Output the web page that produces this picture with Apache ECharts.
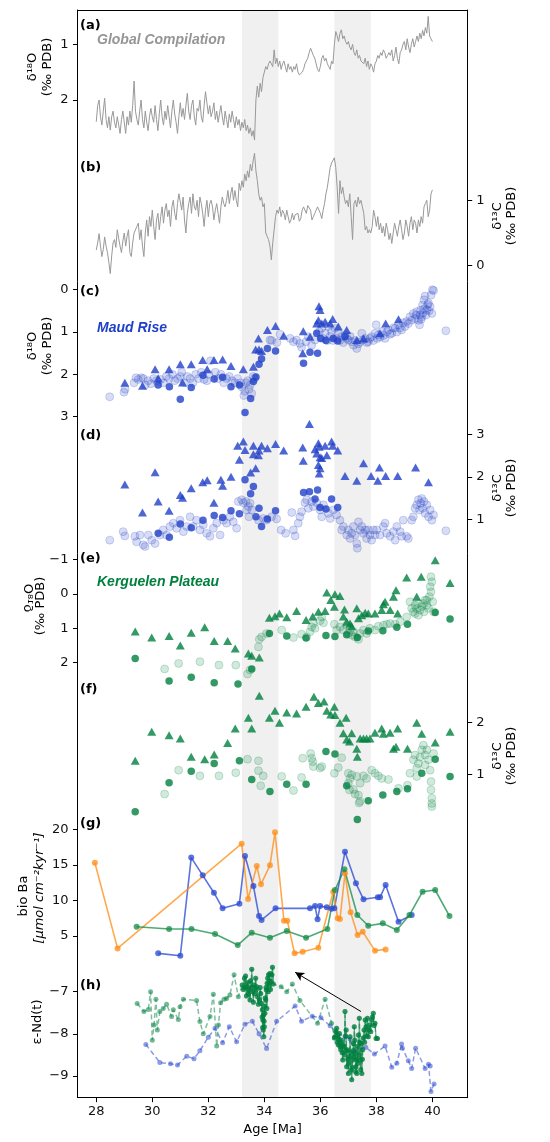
<!DOCTYPE html>
<html><head><meta charset="utf-8">
<script src="https://cdn.jsdelivr.net/npm/echarts@6/dist/echarts.min.js"></script>
<style>html,body{margin:0;padding:0;background:#fff}#c{width:550px;height:1142px}</style>
</head><body><div id="c"></div>
<script>
// ---------------- DATA ----------------
const ageTicks = [28, 30, 32, 34, 36, 38, 40];
const bandRanges = [[33.2, 34.5], [36.5, 37.8]];

// (a) global compilation d18O, sampled every 0.05 Ma from 28.0 Ma
const globalAgeStart = 28.0, globalAgeStep = 0.05;
const globalO18 = [
2.39,2.10,2.00,2.30,2.45,2.20,1.97,2.35,2.50,2.30,
2.54,2.30,2.20,2.40,2.50,2.30,2.45,2.60,2.35,2.20,
2.40,2.60,2.30,2.45,2.20,2.40,2.10,1.66,2.20,2.35,
2.45,2.20,2.00,2.35,2.50,2.20,2.40,2.55,2.30,2.15,
2.30,2.40,2.10,2.35,2.55,2.25,2.00,2.30,2.45,2.20,
2.35,2.10,2.30,2.50,2.20,2.00,2.25,2.40,2.60,2.30,
2.05,2.30,2.15,2.35,2.10,1.88,2.20,2.35,2.10,2.00,
2.30,2.45,2.15,2.20,2.00,2.30,2.40,2.10,1.85,2.05,
2.25,2.10,2.30,2.20,2.05,2.35,2.20,2.40,2.25,2.10,
2.30,2.45,2.20,2.35,2.50,2.25,2.40,2.20,2.35,2.50,
2.30,2.45,2.35,2.55,2.40,2.50,2.35,2.55,2.45,2.60,
2.50,2.65,2.55,2.72,2.00,1.75,1.95,1.70,1.85,1.60,
1.50,1.40,1.45,1.35,1.30,1.30,1.40,1.10,1.35,1.25,
1.40,1.30,1.45,1.35,1.30,1.40,1.50,1.35,1.45,1.40,
1.50,1.40,1.45,1.35,1.50,1.55,1.58,1.50,1.45,1.35,
1.30,1.25,1.15,1.07,1.10,1.20,1.25,1.35,1.45,1.49,
1.40,1.25,1.20,1.30,1.25,1.35,1.40,1.45,1.30,1.35,
1.00,0.77,0.85,0.95,0.80,0.74,0.90,0.85,0.95,1.00,
0.95,1.05,1.10,1.00,1.15,1.20,1.10,1.25,1.20,1.30,
1.30,1.35,1.25,1.40,1.30,1.45,1.35,1.40,1.50,1.35,
1.30,1.20,1.25,1.15,1.20,1.10,1.15,1.25,1.20,1.15,
1.20,1.10,1.30,1.20,1.05,1.25,1.35,1.15,1.10,1.00,
0.95,1.10,0.90,1.05,1.15,1.00,0.90,1.05,0.95,0.85,
0.95,0.80,0.90,0.75,0.85,0.70,0.80,0.50,0.85,0.90,
0.95];
// (b) global compilation d13C, same sampling
const globalC13 = [
0.24,0.35,0.49,0.30,0.14,0.25,0.44,0.30,0.20,0.05,
-0.12,0.15,0.35,0.40,0.28,0.55,0.42,0.30,0.20,0.38,
0.50,0.30,0.45,0.55,0.20,0.14,0.35,0.50,0.48,0.60,
0.65,0.40,0.55,0.30,0.14,0.50,0.70,0.45,0.75,0.60,
0.85,0.60,0.40,0.70,0.80,0.55,0.75,0.90,0.65,0.85,
0.95,0.75,0.85,0.60,0.90,1.00,0.80,0.70,0.95,1.10,
1.11,0.85,1.05,0.70,0.50,0.80,0.95,1.05,0.80,1.10,
0.90,0.85,1.00,0.75,1.05,0.95,0.80,0.60,0.85,1.00,
0.75,0.95,1.00,0.90,0.70,0.85,0.95,0.80,0.65,0.90,
1.05,0.95,0.90,1.00,1.15,0.95,1.10,1.20,1.00,1.15,
1.00,0.90,1.26,1.15,1.30,1.20,1.40,1.30,1.45,1.35,
1.55,1.45,1.60,1.72,1.45,1.30,1.10,1.00,1.05,0.90,
0.95,0.50,0.45,0.40,0.30,0.09,0.35,0.55,0.75,0.85,
0.80,0.90,0.75,0.85,0.80,0.70,0.85,0.75,0.65,0.70,
0.80,0.70,0.78,0.75,0.80,0.68,0.72,0.85,0.90,0.88,
0.80,0.92,0.95,0.85,0.70,0.75,0.80,0.85,0.90,0.88,
0.80,0.72,0.85,0.95,1.10,1.20,1.35,1.50,1.57,1.60,
1.65,1.50,1.20,0.80,1.30,1.10,1.20,1.05,0.95,1.00,
0.90,1.10,0.75,0.40,0.95,1.00,0.90,1.05,0.95,1.00,
0.90,0.80,0.55,0.60,0.50,0.55,0.50,0.60,0.85,0.75,
0.60,0.75,0.55,0.65,0.50,0.60,0.45,0.65,0.55,0.40,
0.50,0.34,0.50,0.65,0.55,0.45,0.60,0.70,0.55,0.40,
0.50,0.70,0.60,0.45,0.65,0.75,0.55,0.70,0.65,0.50,
0.70,0.60,0.75,0.65,0.90,0.95,1.00,0.75,0.85,1.10,
1.16];

// (c) Maud Rise d18O  [age, value]
const maudO18Bulk = [[28.48,2.53],[28.99,2.42],[29.03,2.35],[29.35,2.2],[29.42,2.08],[29.5,2.12],[29.6,2.08],[29.68,2.1],[29.75,2.25],[29.85,2.15],[29.95,2.22],[30.05,2.1],[30.15,2.15],[30.3,2.12],[30.4,2.2],[30.5,2.05],[30.6,2.1],[30.72,2.0],[30.8,2.15],[30.9,2.1],[31.0,2.05],[31.05,1.95],[31.15,2.2],[31.25,2.05],[31.35,2.1],[31.45,2.2],[31.55,2.0],[31.65,2.1],[31.75,1.95],[31.85,2.12],[31.95,2.15],[32.02,2.0],[32.08,1.68],[32.25,1.95],[32.35,2.1],[32.45,2.0],[32.55,2.2],[32.65,2.1],[32.75,2.05],[32.85,2.15],[32.95,2.2],[33.05,2.1],[33.15,2.2],[33.2,2.3],[33.27,2.5],[33.3,2.4],[33.35,2.2],[33.4,2.15],[33.45,2.35],[33.5,2.25],[33.55,2.45],[33.6,2.05],[33.65,2.1],[34.2,1.19],[34.26,1.2],[34.45,1.25],[34.56,1.05],[34.92,1.15],[35.04,1.23],[35.15,1.19],[35.27,1.27],[35.33,1.36],[35.49,1.23],[35.57,1.11],[35.69,1.31],[35.81,1.19],[35.96,0.99],[36.05,0.91],[36.1,1.15],[36.17,1.03],[36.25,1.2],[36.29,0.87],[36.35,1.1],[36.4,0.99],[36.45,1.2],[36.52,0.91],[36.58,1.15],[36.64,1.03],[36.7,1.2],[36.76,1.11],[36.82,1.25],[36.88,1.07],[36.95,1.15],[37.0,1.19],[37.06,1.1],[37.12,1.23],[37.18,1.31],[37.24,1.2],[37.3,1.39],[37.36,1.28],[37.42,1.23],[37.48,1.03],[37.54,1.18],[37.6,1.15],[37.66,1.25],[37.71,1.23],[37.77,1.15],[37.83,1.11],[37.89,1.2],[37.95,1.03],[37.99,0.83],[38.03,1.15],[38.07,1.07],[38.13,1.12],[38.19,0.99],[38.25,1.08],[38.31,1.15],[38.37,1.0],[38.43,0.95],[38.49,1.05],[38.55,1.03],[38.61,0.9],[38.67,0.91],[38.73,1.0],[38.79,0.83],[38.85,0.9],[38.9,0.95],[38.96,0.78],[39.02,0.87],[39.08,0.75],[39.14,0.8],[39.2,0.64],[39.26,0.72],[39.32,0.56],[39.38,0.68],[39.42,0.6],[39.44,0.52],[39.5,0.72],[39.54,0.83],[39.56,0.6],[39.58,0.48],[39.6,0.7],[39.62,0.64],[39.65,0.36],[39.67,0.55],[39.7,0.24],[39.72,0.45],[39.74,0.15],[39.77,0.6],[39.8,0.48],[39.83,0.35],[39.86,0.32],[39.88,0.5],[39.92,0.4],[39.95,0.13],[39.98,0.56],[40.0,0.0],[40.04,0.02],[40.48,0.97]];
const maudO18Benthic = [[30.21,2.25],[30.61,2.29],[31.0,2.59],[31.39,2.31],[31.81,2.02],[32.21,2.11],[32.51,2.07],[32.81,2.29],[33.11,2.25],[33.31,2.9],[33.51,2.57],[33.61,2.17],[33.7,2.06],[33.81,1.76],[33.9,1.63],[34.11,1.39],[34.4,1.45],[35.4,1.74],[35.63,1.48],[35.9,1.5],[35.87,1.03],[36.01,1.15],[36.2,1.2],[36.46,1.15],[36.62,1.21],[36.88,1.11]];
const maudO18Planktic = [[29.02,2.2],[29.65,2.27],[30.1,1.88],[30.21,2.09],[30.6,1.88],[31.0,1.76],[31.08,2.19],[31.39,1.76],[31.8,1.66],[31.96,1.88],[32.2,1.66],[32.51,1.65],[32.81,1.8],[33.25,1.88],[33.61,1.82],[33.69,1.41],[33.79,1.15],[33.81,1.41],[33.9,1.45],[34.11,0.95],[34.4,0.86],[34.69,1.09],[35.39,0.98],[35.37,1.5],[35.63,1.11],[35.95,0.39],[35.99,0.48],[35.93,0.72],[35.87,0.8],[36.05,0.8],[36.17,0.76],[36.44,0.69],[36.35,0.8],[36.64,0.87],[36.94,0.95],[37.3,1.19],[37.54,1.15],[38.13,1.03],[38.33,0.8],[38.79,0.7]];

// (d) Maud Rise d13C
const maudC13Bulk = [[28.48,0.51],[28.96,0.71],[29.02,0.61],[29.38,0.6],[29.44,0.47],[29.56,0.63],[29.68,0.4],[29.74,0.36],[29.86,0.63],[29.98,0.51],[30.1,0.43],[30.27,0.63],[30.39,0.75],[30.51,0.63],[30.63,0.83],[30.75,0.91],[30.87,0.79],[30.99,0.98],[31.11,0.71],[31.23,0.83],[31.35,1.06],[31.46,0.83],[31.58,0.98],[31.7,0.75],[31.82,0.87],[31.94,0.67],[32.06,0.6],[32.18,0.79],[32.3,0.91],[32.42,0.63],[32.54,0.98],[32.65,0.91],[32.77,1.06],[32.89,0.94],[33.01,0.79],[33.07,1.42],[33.19,1.46],[33.25,1.39],[33.35,1.42],[33.37,1.22],[33.43,1.3],[33.45,1.06],[33.49,1.38],[33.55,1.22],[33.79,0.98],[33.96,1.02],[34.08,0.98],[34.26,1.06],[34.44,1.01],[34.6,0.75],[34.76,0.67],[34.98,1.16],[35.04,0.75],[35.1,0.61],[35.21,0.91],[35.27,1.06],[35.33,1.18],[35.45,1.39],[35.51,1.46],[35.57,1.26],[35.69,1.42],[35.75,1.3],[35.87,1.39],[35.99,1.22],[36.05,1.06],[36.11,1.34],[36.29,1.14],[36.35,1.02],[36.46,1.22],[36.58,1.1],[36.7,0.98],[36.76,0.75],[36.82,0.83],[36.94,0.63],[37.0,0.75],[37.06,0.55],[37.12,0.67],[37.18,0.83],[37.24,0.63],[37.3,0.43],[37.32,0.32],[37.36,0.94],[37.42,0.75],[37.48,0.83],[37.54,0.67],[37.6,0.75],[37.65,0.55],[37.71,0.75],[37.77,0.63],[37.83,0.51],[37.89,0.75],[37.95,0.63],[38.01,0.75],[38.13,0.63],[38.25,0.83],[38.31,0.91],[38.37,0.67],[38.49,0.6],[38.61,0.71],[38.67,0.51],[38.73,0.83],[38.85,0.71],[38.9,0.6],[38.96,0.98],[39.08,0.6],[39.14,0.55],[39.26,0.98],[39.32,1.06],[39.38,1.26],[39.44,1.34],[39.5,1.46],[39.54,1.22],[39.58,1.38],[39.62,1.49],[39.65,1.26],[39.7,1.42],[39.74,1.14],[39.8,1.34],[39.86,1.06],[39.92,1.22],[39.98,0.98],[40.04,1.1],[40.48,0.73]];
const maudC13Benthic = [[30.21,0.67],[30.61,0.58],[31.0,0.89],[31.39,0.8],[31.81,0.98],[32.21,1.09],[32.51,1.04],[32.81,1.2],[33.11,1.13],[33.31,1.93],[33.51,1.6],[33.61,1.77],[33.81,1.26],[33.7,1.06],[33.9,0.83],[34.11,1.01],[34.4,1.2],[35.4,1.63],[35.61,1.65],[35.9,1.69],[35.81,1.48],[36.4,1.48],[36.62,1.28],[35.99,1.28],[36.2,1.24]];
const maudC13Planktic = [[29.02,1.82],[29.65,1.16],[30.1,2.11],[30.21,1.42],[30.6,1.2],[31.0,1.57],[31.08,1.51],[31.39,1.73],[31.8,1.87],[31.96,1.92],[32.2,1.39],[32.45,1.93],[32.51,1.79],[32.81,2.0],[33.05,2.73],[33.11,2.4],[33.25,2.83],[33.31,2.63],[33.51,2.1],[33.61,2.73],[33.61,2.53],[33.69,2.2],[33.79,2.51],[33.81,2.62],[33.9,2.73],[34.11,2.67],[34.4,2.77],[34.69,2.62],[35.37,2.69],[35.39,2.38],[35.61,3.24],[35.81,2.65],[35.87,2.55],[35.93,2.79],[35.96,2.71],[35.99,2.46],[35.93,2.28],[35.96,2.08],[35.99,2.2],[36.05,2.44],[36.17,2.73],[36.23,2.51],[36.4,2.83],[36.44,2.73],[36.62,2.62],[36.88,2.02],[37.3,1.91],[37.54,2.32],[37.81,2.02],[38.05,1.91],[38.11,2.22],[38.33,2.02],[38.76,2.02],[39.4,2.22],[39.86,1.87]];

// (e) Kerguelen Plateau d18O
const kergO18Bulk = [[30.44,2.18],[30.94,2.02],[31.7,1.97],[32.38,2.07],[32.98,2.07],[33.4,2.33],[33.49,2.21],[33.79,1.54],[33.82,1.32],[33.9,1.25],[34.08,1.15],[34.62,1.05],[35.04,1.27],[35.33,1.17],[35.51,1.25],[35.63,1.1],[35.69,0.96],[35.75,0.86],[35.81,1.0],[35.99,0.78],[36.05,0.67],[36.11,0.84],[36.5,0.88],[36.58,1.05],[36.7,0.96],[36.82,1.05],[36.94,0.91],[37.0,1.15],[37.06,1.05],[37.12,1.2],[37.18,1.1],[37.24,1.25],[37.36,1.32],[37.42,1.15],[37.54,1.05],[37.65,1.15],[37.77,1.0],[37.95,1.05],[38.07,0.94],[38.25,0.91],[38.37,0.88],[38.49,0.86],[38.67,0.88],[38.85,0.81],[39.08,0.67],[39.2,0.23],[39.26,0.42],[39.32,0.52],[39.38,0.33],[39.38,0.57],[39.44,0.42],[39.5,0.28],[39.5,0.62],[39.56,0.47],[39.62,0.37],[39.68,0.28],[39.7,0.52],[39.74,0.18],[39.8,0.33],[39.8,0.18],[39.86,0.42],[39.89,0.08],[39.92,-0.21],[39.95,-0.5],[39.95,-0.06],[39.98,-0.35],[40.01,0.23],[40.04,0.52]];
const kergO18Benthic = [[29.39,1.88],[30.6,2.53],[31.39,2.42],[32.21,2.58],[33.06,2.62],[33.55,2.18],[34.18,1.15],[34.8,1.22],[35.49,1.28],[36.2,1.21],[36.52,1.24],[36.94,1.19],[37.32,1.27],[37.71,1.08],[38.23,1.07],[38.73,0.97],[39.11,0.88],[40.1,0.54],[40.63,0.73]];
const kergO18Planktic = [[29.39,1.09],[29.98,1.27],[30.6,1.22],[31.0,1.5],[31.39,1.13],[31.87,0.97],[32.21,1.37],[32.69,1.37],[32.96,1.59],[33.43,1.73],[33.55,1.8],[33.82,1.85],[34.18,0.69],[34.38,0.65],[34.54,0.57],[34.8,0.68],[35.15,0.5],[35.49,0.76],[35.73,0.66],[35.93,0.52],[36.17,0.5],[36.23,-0.04],[36.37,0.18],[36.52,0.01],[36.7,0.06],[36.5,0.37],[36.86,0.45],[36.82,0.66],[36.94,0.81],[37.06,0.86],[37.12,0.94],[37.3,0.42],[37.36,0.71],[37.48,0.62],[37.6,0.55],[37.71,0.57],[37.95,0.57],[38.19,0.47],[38.25,0.3],[38.31,0.23],[38.49,0.47],[38.61,0.08],[38.7,-0.11],[38.76,0.57],[39.08,-0.48],[39.44,0.08],[39.6,-0.5],[40.1,-0.98],[40.63,-0.32]];

// (f) Kerguelen Plateau d13C
const kergC13Bulk = [[30.44,0.62],[30.94,1.08],[31.7,0.97],[32.38,0.97],[32.98,1.03],[33.4,1.29],[33.79,1.26],[33.79,1.07],[33.96,0.97],[33.87,0.78],[34.62,0.96],[35.04,0.69],[35.33,0.94],[35.37,1.31],[35.65,1.4],[35.69,1.31],[35.73,1.24],[35.75,1.15],[35.99,1.12],[36.05,1.15],[36.5,1.02],[36.64,1.13],[36.76,1.32],[37.0,1.02],[37.06,0.92],[37.12,0.99],[37.0,0.83],[37.04,0.7],[37.18,0.71],[37.24,0.62],[37.3,0.96],[37.36,0.6],[37.38,0.45],[37.42,0.48],[37.42,0.83],[37.54,0.97],[37.65,0.92],[37.83,1.08],[37.95,1.02],[38.07,0.97],[38.19,0.92],[38.43,0.9],[38.79,0.73],[39.11,0.79],[39.2,1.02],[39.32,1.28],[39.38,1.37],[39.44,1.12],[39.44,0.96],[39.5,1.21],[39.56,1.33],[39.62,1.47],[39.68,1.56],[39.74,1.37],[39.74,1.18],[39.8,1.47],[39.86,1.28],[39.92,1.08],[39.95,0.86],[39.95,0.7],[39.98,0.54],[39.98,0.44],[39.98,0.38],[40.04,1.4]];
const kergC13Benthic = [[29.39,0.28],[30.6,0.84],[31.39,1.06],[32.21,1.21],[33.11,1.26],[33.55,0.9],[34.2,0.67],[34.8,0.81],[35.49,0.81],[36.2,1.44],[36.52,1.39],[36.94,0.78],[37.32,0.13],[37.71,0.49],[38.23,0.6],[38.73,0.67],[39.11,0.72],[39.62,1.02],[40.1,1.29],[40.63,0.96]];
const kergC13Planktic = [[29.39,1.26],[29.98,1.82],[30.6,1.75],[31.0,1.69],[31.39,1.34],[31.87,1.29],[32.21,1.38],[32.69,1.6],[32.96,1.88],[33.43,2.09],[33.55,1.88],[33.82,2.51],[34.18,2.09],[34.38,2.22],[34.54,1.99],[34.8,2.19],[35.15,2.17],[35.49,2.3],[35.77,2.49],[35.93,2.37],[36.13,2.4],[36.23,2.22],[36.37,2.15],[36.5,2.3],[36.52,2.14],[36.7,1.99],[36.92,2.09],[36.82,1.79],[36.94,1.67],[37.04,1.63],[37.12,1.79],[37.3,1.49],[37.32,1.34],[37.42,1.69],[37.54,1.69],[37.65,1.69],[37.77,1.69],[37.95,1.8],[38.19,1.88],[38.25,1.78],[38.49,1.8],[38.76,1.88],[38.61,1.49],[38.7,1.53],[39.11,1.49],[39.44,1.99],[39.62,1.78],[40.1,1.61],[40.63,1.82]];

// (g) bio Ba [umol cm-2 kyr-1]
const baOrange = [[27.95,15.3],[28.76,3.26],[33.19,17.98],[33.42,10.2],[33.73,14.84],[33.88,12.26],[34.2,14.94],[34.38,19.58],[34.7,7.15],[34.82,7.15],[35.08,2.56],[35.37,2.79],[35.93,3.36],[36.46,11.23],[36.62,7.48],[36.7,7.39],[36.88,13.81],[37.08,8.33],[37.33,5.14],[37.51,5.61],[37.95,2.94],[38.33,3.12]];
const baBlue = [[30.21,2.56],[31.0,2.23],[31.39,16.02],[31.8,13.53],[32.2,11.09],[32.51,8.89],[33.11,9.55],[33.31,16.25],[33.61,12.03],[33.81,7.81],[33.9,7.25],[34.4,8.89],[35.63,8.89],[35.81,9.22],[35.9,7.34],[35.99,9.22],[36.23,9.03],[36.4,8.84],[36.5,8.89],[36.88,16.86],[37.27,12.41],[37.54,10.16],[38.05,10.44],[38.13,10.44],[38.33,12.17],[38.79,7.01],[39.26,7.95]];
const baGreen = [[29.44,6.31],[30.6,5.98],[31.4,5.98],[32.24,5.28],[33.05,3.73],[33.55,5.47],[34.2,4.77],[34.8,5.7],[35.49,4.77],[36.25,5.98],[36.52,11.47],[36.86,14.37],[37.32,7.95],[37.71,6.45],[38.23,6.78],[38.73,5.84],[39.18,7.95],[39.65,11.23],[40.1,11.47],[40.61,7.81]];

// (h) eps-Nd(t)
const ndBlue = [[29.77,-8.25],[30.27,-8.68],[30.65,-8.71],[30.9,-8.74],[31.23,-8.53],[31.49,-8.59],[31.7,-8.4],[32.0,-8.08],[32.24,-7.87],[32.51,-8.21],[32.75,-7.83],[33.01,-8.19],[33.31,-7.77],[33.57,-7.7],[33.81,-8.0],[34.08,-8.35],[34.44,-7.7],[35.1,-7.34],[35.33,-7.7],[35.71,-7.58],[36.02,-7.62],[36.35,-7.81],[36.58,-7.97],[36.88,-8.07],[37.06,-8.12],[37.24,-8.4],[37.62,-8.32],[37.93,-8.48],[38.31,-8.29],[38.55,-8.79],[38.73,-8.7],[38.9,-8.24],[38.93,-8.34],[39.14,-8.64],[39.26,-8.82],[39.4,-8.34],[39.74,-8.82],[39.86,-8.72],[39.92,-8.76],[39.95,-9.37],[40.06,-9.19]];
const ndGreenSparse = [[29.46,-7.28],[29.7,-7.47],[29.86,-7.42],[29.94,-7.0],[30.0,-8.15],[30.06,-7.79],[30.13,-7.18],[30.18,-7.91],[30.27,-7.47],[30.39,-7.4],[30.51,-7.3],[30.69,-7.59],[30.75,-7.43],[30.93,-7.66],[30.99,-7.36],[31.11,-7.18],[31.58,-7.21],[31.7,-7.71],[31.82,-8.0],[32.06,-7.59],[32.18,-7.06],[32.3,-8.29],[32.36,-7.79],[32.44,-7.26],[32.56,-7.18],[32.65,-7.16],[32.77,-7.08],[32.92,-6.6],[33.07,-7.12],[34.6,-6.88],[34.8,-7.0],[35.0,-6.82],[35.27,-7.21],[35.9,-7.75],[36.17,-7.18],[36.4,-7.75]];
const ndGreenEOT = [[33.21,-6.84],[33.25,-6.95],[33.29,-6.68],[33.31,-6.9],[33.33,-6.63],[33.36,-7.1],[33.39,-6.88],[33.41,-6.78],[33.43,-7.06],[33.46,-6.96],[33.49,-7.2],[33.51,-6.74],[33.53,-6.9],[33.55,-6.47],[33.58,-7.0],[33.61,-7.25],[33.63,-6.84],[33.66,-7.05],[33.69,-6.68],[33.71,-6.95],[33.73,-6.88],[33.76,-7.12],[33.79,-7.3],[33.82,-7.2],[33.85,-6.9],[33.87,-7.04],[33.9,-7.28],[33.92,-7.6],[33.93,-7.43],[33.94,-7.85],[33.95,-7.67],[33.96,-7.91],[33.97,-7.55],[33.98,-8.07],[33.99,-7.7],[34.0,-7.83],[34.01,-7.35],[34.02,-7.51],[34.03,-7.15],[34.05,-7.2],[34.06,-6.9],[34.07,-6.96],[34.09,-7.4],[34.1,-6.8],[34.12,-6.68],[34.14,-7.0],[34.15,-6.6],[34.18,-6.85],[34.2,-6.57],[34.22,-6.95],[34.24,-6.76],[34.27,-6.6],[34.29,-6.42],[34.32,-6.82]];
const ndGreenMECO = [[36.5,-8.1],[36.52,-8.07],[36.55,-7.95],[36.58,-7.87],[36.6,-8.2],[36.62,-8.05],[36.64,-8.26],[36.66,-8.12],[36.68,-7.99],[36.7,-8.3],[36.73,-8.38],[36.75,-8.15],[36.76,-8.22],[36.78,-8.45],[36.8,-8.62],[36.82,-8.28],[36.85,-8.3],[36.86,-8.5],[36.88,-7.47],[36.9,-8.05],[36.92,-7.91],[36.93,-8.4],[36.94,-8.78],[36.96,-8.38],[36.98,-8.6],[37.0,-8.94],[37.02,-8.7],[37.04,-8.54],[37.06,-8.07],[37.08,-8.45],[37.1,-8.86],[37.12,-9.09],[37.14,-8.8],[37.15,-8.62],[37.17,-8.4],[37.18,-8.23],[37.2,-8.55],[37.21,-7.83],[37.23,-8.15],[37.24,-8.46],[37.26,-8.9],[37.27,-8.78],[37.29,-8.6],[37.3,-8.94],[37.32,-8.3],[37.34,-8.7],[37.36,-8.03],[37.38,-8.5],[37.39,-7.63],[37.41,-8.2],[37.42,-8.62],[37.44,-8.85],[37.45,-8.23],[37.48,-8.94],[37.5,-8.6],[37.51,-8.38],[37.53,-8.1],[37.56,-7.91],[37.58,-8.2],[37.6,-7.67],[37.63,-7.83],[37.65,-8.05],[37.68,-7.63],[37.71,-8.07],[37.74,-7.9],[37.77,-7.79],[37.8,-7.95],[37.83,-7.67],[37.86,-7.6],[37.89,-7.51],[37.92,-7.8],[37.95,-7.75],[37.99,-8.11],[38.04,-8.11]];
const ndArrow = [[37.45,-7.47],[35.1,-6.54]];

// ---------------- LAYOUT / STYLE ----------------
const L = 77.5, R = 467.7, T = 10, B = 1097.7;
const FONT = 'DejaVu Sans';
const BLUE = '#2040c8', GREEN = '#00803f', GRAY = '#999999';
const BLUE_L = 'rgba(32,64,200,0.22)', BLUE_LE = 'rgba(32,64,200,0.25)';
const GREEN_L = 'rgba(0,128,63,0.22)', GREEN_LE = 'rgba(0,128,63,0.25)';

function fmt(v){ return v < 0 ? '\u2212' + Math.abs(v) : String(v); }
function yAx(side, inv, min, max, ticks, line){
  return {
    type:'value', position:side, inverse:inv, min:min, max:max, z:10,
    splitLine:{show:false},
    axisLine:{show:line, onZero:false, lineStyle:{color:'#000', width:1}},
    axisTick:{show:true, customValues:ticks, length:4.5, lineStyle:{color:'#000', width:1}},
    axisLabel:{show:true, customValues:ticks, fontFamily:FONT, fontSize:13, color:'#111', margin: side==='left'?9:8.5, formatter:fmt}
  };
}
const yAxes = [
  yAx('left',  true,  0.3842, 19.912, [1,2], true),        // a
  yAx('right', false, -12.722, 3.910, [0,1], true),        // b
  yAx('left',  true,  -6.607, 19.087, [0,1,2,3], false),   // c
  yAx('right', false, -12.609, 12.984, [1,2,3], false),    // d
  yAx('left',  true,  -16.974, 14.645, [-1,0,1,2], false), // e
  yAx('right', false, -5.219, 15.698, [1,2], false),       // f
  yAx('left',  false, -17.73, 135.18, [5,10,15,20], false),// g
  yAx('left',  false, -9.515, 16.291, [-9,-8,-7], false)   // h
];

const toLine = (vals)=>vals.map((v,i)=>[+(globalAgeStart + i*globalAgeStep).toFixed(2), v]);

function scat(data, yi, kind, col){
  const s = {type:'scatter', yAxisIndex:yi, data:data, z:3, silent:true, animation:false};
  if(kind==='bulk'){
    s.symbol='circle'; s.symbolSize=8;
    s.itemStyle={color: col==='b'?BLUE_L:GREEN_L, borderColor: col==='b'?BLUE_LE:GREEN_LE, borderWidth:1};
  } else if(kind==='ben'){
    s.symbol='circle'; s.symbolSize=7.5; s.itemStyle={color: col==='b'?BLUE:GREEN};
  } else {
    s.symbol='triangle'; s.symbolSize=[9,8]; s.itemStyle={color: col==='b'?BLUE:GREEN};
  }
  return s;
}
function baLine(data, color){
  return {type:'line', yAxisIndex:6, data:data, symbol:'circle', symbolSize:6, showSymbol:true,
    lineStyle:{color:color, width:1.6}, itemStyle:{color:color}, z:3, silent:true, animation:false};
}

const ndGreenAll = ndGreenSparse.concat(ndGreenEOT, ndGreenMECO).sort((a,b)=>a[0]-b[0]);

const series = [
  {type:'line', yAxisIndex:0, data:toLine(globalO18), showSymbol:false, symbol:'none',
   lineStyle:{color:GRAY, width:1}, z:2, silent:true, animation:false,
   markArea:{silent:true, itemStyle:{color:'#f0f0f0'}, data: bandRanges.map(r=>[{xAxis:r[0]},{xAxis:r[1]}])}},
  {type:'line', yAxisIndex:1, data:toLine(globalC13), showSymbol:false, symbol:'none',
   lineStyle:{color:GRAY, width:1}, z:2, silent:true, animation:false},
  scat(maudO18Bulk,2,'bulk','b'), scat(maudO18Benthic,2,'ben','b'), scat(maudO18Planktic,2,'pla','b'),
  scat(maudC13Bulk,3,'bulk','b'), scat(maudC13Benthic,3,'ben','b'), scat(maudC13Planktic,3,'pla','b'),
  scat(kergO18Bulk,4,'bulk','g'), scat(kergO18Benthic,4,'ben','g'), scat(kergO18Planktic,4,'pla','g'),
  scat(kergC13Bulk,5,'bulk','g'), scat(kergC13Benthic,5,'ben','g'), scat(kergC13Planktic,5,'pla','g'),
  baLine(baBlue, 'rgba(45,75,210,0.78)'),
  baLine(baOrange, 'rgba(255,140,20,0.75)'),
  baLine(baGreen, 'rgba(20,140,70,0.75)'),
  {type:'line', yAxisIndex:7, data:ndBlue, symbol:'circle', symbolSize:5, showSymbol:true,
   lineStyle:{color:'rgba(45,75,210,0.55)', width:1.5, type:[5,3]}, itemStyle:{color:'rgba(45,75,210,0.55)'}, z:3, silent:true, animation:false},
  {type:'line', yAxisIndex:7, data:ndGreenAll, symbol:'circle', symbolSize:5, showSymbol:true,
   lineStyle:{color:'rgba(0,128,63,0.5)', width:1.5, type:[5,3]}, itemStyle:{color:'rgba(0,128,63,0.55)'}, z:3, silent:true, animation:false,
   markLine:{silent:true, symbol:['none','arrow'], symbolSize:[7,9], label:{show:false},
     lineStyle:{color:'#000', width:1, type:'solid'},
     data:[[{coord:ndArrow[0]},{coord:ndArrow[1]}]]}},
  {type:'line', yAxisIndex:7, data:ndGreenEOT, symbol:'circle', symbolSize:5, showSymbol:true,
   lineStyle:{color:'rgba(0,128,63,0.6)', width:1.2}, itemStyle:{color:'rgba(0,128,63,0.6)'}, z:4, silent:true, animation:false},
  {type:'line', yAxisIndex:7, data:ndGreenMECO, symbol:'circle', symbolSize:5, showSymbol:true,
   lineStyle:{color:'rgba(0,128,63,0.6)', width:1.2}, itemStyle:{color:'rgba(0,128,63,0.6)'}, z:4, silent:true, animation:false}
];

// ---------------- TEXT (graphic) ----------------
const g = [];
function txt(x,y,text,font,fill,rot,extra){
  const o = {type:'text', x:x, y:y, rotation:rot||0, z:100, silent:true,
    style:{text:text, font:font, fill:fill||'#000', align:'center', verticalAlign:'middle'}};
  if(extra) Object.assign(o, extra);
  g.push(o);
}
const V = Math.PI/2;
const F13 = '13px "DejaVu Sans"';
txt(33, 67, 'δ¹⁸O', F13, '#000', V); txt(48, 67, '(‰ PDB)', F13, '#000', V);
txt(498, 216, 'δ¹³C', F13, '#000', V); txt(512, 216, '(‰ PDB)', F13, '#000', V);
txt(33, 346, 'δ¹⁸O', F13, '#000', V); txt(48, 346, '(‰ PDB)', F13, '#000', V);
txt(498, 488, 'δ¹³C', F13, '#000', V); txt(512, 488, '(‰ PDB)', F13, '#000', V);
txt(27, 598, 'δ¹⁸O', F13, '#000', V, {scaleY:-1}); txt(41, 606, '(‰ PDB)', F13, '#000', V);
txt(498, 756, 'δ¹³C', F13, '#000', V); txt(512, 756, '(‰ PDB)', F13, '#000', V);
txt(24, 896, 'bio Ba', F13, '#000', V); txt(40, 888, '[μmol cm⁻²kyr⁻¹]', 'italic 13px "DejaVu Sans"', '#000', V);
txt(38, 1022, 'ε-Nd(t)', F13, '#000', V);
const letters = [['(a)',26],['(b)',168],['(c)',292],['(d)',436],['(e)',559],['(f)',690],['(g)',824],['(h)',986]];
letters.forEach(l=>g.push({type:'text', x:80, y:l[1], z:100, silent:true,
  style:{text:l[0], font:'bold 13px "DejaVu Sans"', fill:'#000', align:'left', verticalAlign:'middle'}}));
[['Global Compilation',40,'#959595'],['Maud Rise',328,BLUE],['Kerguelen Plateau',582,GREEN]].forEach(s=>
  g.push({type:'text', x:97, y:s[1], z:100, silent:true,
    style:{text:s[0], font:'italic bold 14px "Liberation Sans"', fill:s[2], align:'left', verticalAlign:'middle'}}));

const option = {
  animation:false,
  backgroundColor:'#fff',
  grid:{left:L, top:T, width:R-L, height:B-T, containLabel:false},
  xAxis:[
    {type:'value', position:'bottom', min:27.33, max:41.26, z:10,
     axisLine:{show:true, onZero:false, lineStyle:{color:'#000', width:1}},
     axisTick:{show:true, customValues:ageTicks, length:4.5, lineStyle:{color:'#000', width:1}},
     axisLabel:{customValues:ageTicks, fontFamily:FONT, fontSize:13, color:'#111', margin:7},
     splitLine:{show:false},
     name:'Age [Ma]', nameLocation:'middle', nameGap:25, nameTextStyle:{fontFamily:FONT, fontSize:13, color:'#000'}},
    {type:'value', position:'top', min:27.33, max:41.26, z:10,
     axisLine:{show:true, onZero:false, lineStyle:{color:'#000', width:1}},
     axisTick:{show:false}, axisLabel:{show:false}, splitLine:{show:false}}
  ],
  yAxis: yAxes,
  series: series,
  graphic: g
};
const chart = echarts.init(document.getElementById('c'));
chart.setOption(option);
</script></body></html>
